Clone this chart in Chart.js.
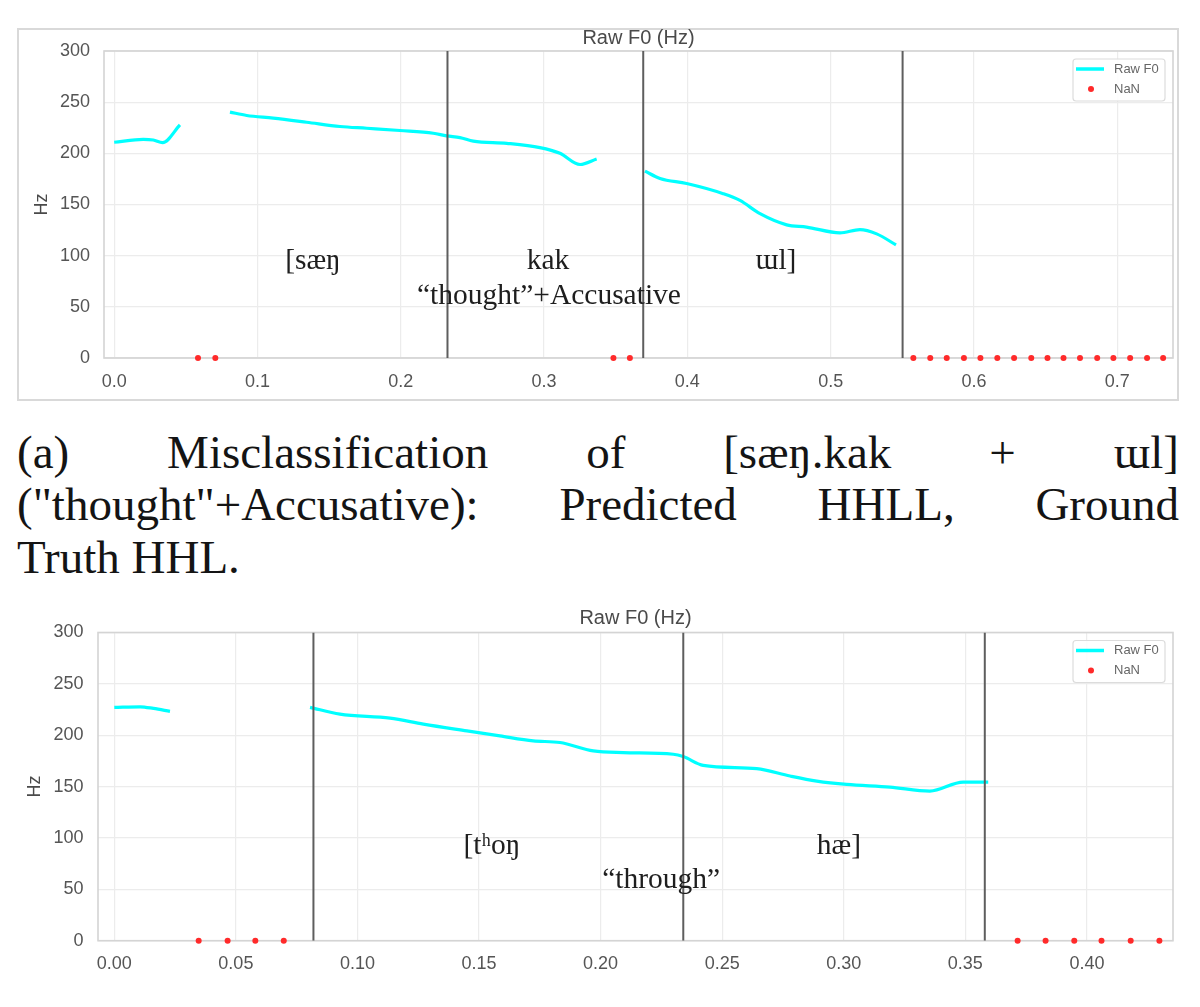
<!DOCTYPE html>
<html>
<head>
<meta charset="utf-8">
<script src="https://cdn.jsdelivr.net/npm/chart.js@4.4.0/dist/chart.umd.min.js"></script>
<style>
  html, body { margin:0; padding:0; background:#fff; }
  body { width:1200px; height:1007px; position:relative; overflow:hidden; }
  #frame1 { position:absolute; left:17px; top:28px; width:1162px; height:373px; box-sizing:border-box; border:2px solid #d9d9d9; }
  canvas { position:absolute; left:0; }
  #c1 { top:0; }
  #c2 { top:600px; }
  .cap { position:absolute; left:17px; width:1162px; font-family:"Liberation Serif","Times New Roman","DejaVu Serif",serif;
         font-size:47px; line-height:53px; color:#141414; white-space:nowrap; }
  .just { text-align:justify; text-align-last:justify; }
</style>
</head>
<body>
<div id="frame1"></div>
<canvas id="c1" width="1200" height="410" style="width:1200px;height:410px"></canvas>
<div class="cap just" style="top:426px">(a) Misclassification of [sæŋ.kak + ɯl]</div>
<div class="cap just" style="top:478px">("thought"+Accusative): Predicted HHLL, Ground</div>
<div class="cap" style="top:531px">Truth HHL.</div>
<canvas id="c2" width="1200" height="407" style="width:1200px;height:407px"></canvas>
<script>
// ================= DATA =================
const TITLE = 'Raw F0 (Hz)';
const Y_LABEL = 'Hz';
const SERIES_F0 = 'Raw F0';
const SERIES_NAN = 'NaN';
const yTicks = [0, 50, 100, 150, 200, 250, 300];
const yTickLabels = ['0', '50', '100', '150', '200', '250', '300'];

// ---- chart (a): [sæŋ.kak + ɯl]
const timeA = [0, 0.0203, 0.0273, 0.0338, 0.0459, 0.0645,
  0.0808, 0.0925, 0.111, 0.1343, 0.1576, 0.1762, 0.1994, 0.2227, 0.232, 0.2413, 0.2506, 0.2739, 0.2971, 0.3111, 0.3251, 0.3367, 0.354,
  0.3704, 0.3809, 0.3995, 0.425, 0.4367, 0.4507, 0.4693, 0.4832, 0.5065, 0.5204, 0.5321, 0.5456];
const f0A = [210.8, 213.7, 213, 210.5, 227.8, null,
  240.3, 237, 234.4, 230.4, 226.2, 224.5, 222.3, 219.6, 217, 215.4, 212, 209.8, 205.6, 200, 189.1, 194.4, null,
  182.6, 175.4, 170.5, 160.6, 154, 141, 130.1, 127.9, 122.3, 125.5, 121.3, 110.5];
const nanTimeA = [0.0585, 0.0706, 0.3484, 0.3599, 0.5577, 0.5695, 0.581, 0.593, 0.6045, 0.6163, 0.628, 0.64,
  0.6513, 0.6625, 0.674, 0.686, 0.6973, 0.709, 0.7208, 0.732];
const boundaryA = [0.2326, 0.3692, 0.5502];
const xTicksA = [0, 0.1, 0.2, 0.3, 0.4, 0.5, 0.6, 0.7];
const xTickLabelsA = ['0.0', '0.1', '0.2', '0.3', '0.4', '0.5', '0.6', '0.7'];
const xRangeA = [-0.0071, 0.7389];
const segTextA = ['[sæŋ', 'kak', 'ɯl]', '“thought”+Accusative'];
const segTextXA = [0.1387, 0.3027, 0.4618, 0.3034];
const segTextYA = [95, 95, 95, 60];

// ---- chart (b): [tʰoŋ hæ]
const timeB = [0, 0.0106, 0.0161, 0.0229, 0.052,
  0.0805, 0.0928, 0.1134, 0.1271, 0.145, 0.1586, 0.1723, 0.1833, 0.197, 0.2093, 0.2299, 0.234, 0.2422,
  0.2642, 0.2779, 0.2889, 0.3012, 0.319, 0.3354, 0.3491, 0.3594];
const f0B = [227.1, 227.7, 226.1, 223.2, null,
  227.1, 220.5, 216.6, 210.8, 204.2, 199.3, 194.5, 192.9, 184.7, 183.1, 181.5, 179.2, 170.7,
  167.5, 160.3, 155.4, 152.1, 149.5, 145.6, 154.4, 154.4];
const nanTimeB = [0.0347, 0.0466, 0.058, 0.0697, 0.3715, 0.383, 0.3948, 0.406, 0.418, 0.4298];
const boundaryB = [0.0819, 0.234, 0.358];
const xTicksB = [0, 0.05, 0.1, 0.15, 0.2, 0.25, 0.3, 0.35, 0.4];
const xTickLabelsB = ['0.00', '0.05', '0.10', '0.15', '0.20', '0.25', '0.30', '0.35', '0.40'];
const xRangeB = [-0.0067, 0.4354];
const segTextB = ['[tʰoŋ', 'hæ]', '“through”'];
const segTextXB = [0.1553, 0.298, 0.2249];
const segTextYB = [91.6, 91.6, 59.3];

// ================= STYLE =================
const SANS = '"Liberation Sans", Arial, "DejaVu Sans", sans-serif';
const SERIF = '"Liberation Serif", "Times New Roman", "DejaVu Serif", serif';
const TICK_COLOR = '#555555';
const GRID_COLOR = '#ececec';
const EDGE_COLOR = '#d4d4d4';
const LINE_COLOR = '#00ffff';
const NAN_COLOR = '#ff2a2a';
const BOUND_COLOR = '#5e5e5e';

const framePlugin = {
  id: 'plotFrame',
  beforeDatasetsDraw(chart) {
    const a = chart.chartArea, ctx = chart.ctx;
    ctx.save();
    ctx.strokeStyle = EDGE_COLOR;
    ctx.lineWidth = 1.6;
    ctx.strokeRect(a.left, a.top, a.right - a.left, a.bottom - a.top);
    ctx.restore();
  }
};

const segTextPlugin = {
  id: 'segText',
  afterDatasetsDraw(chart) {
    const o = chart.options.plugins.segText;
    const ctx = chart.ctx, xs = chart.scales.x, ys = chart.scales.y;
    ctx.save();
    ctx.font = '29.5px ' + SERIF;
    ctx.fillStyle = '#1e1e1e';
    ctx.textAlign = 'center';
    ctx.textBaseline = 'middle';
    o.texts.forEach((t, i) => {
      ctx.fillText(t, xs.getPixelForValue(o.xs[i]), ys.getPixelForValue(o.ys[i]));
    });
    ctx.restore();
  }
};

const boxLegendPlugin = {
  id: 'boxLegend',
  afterDraw(chart) {
    const a = chart.chartArea, ctx = chart.ctx;
    const items = chart.data.datasets.filter(d => d.legendKind);
    const w = 92, h = 42;
    const x0 = a.right - 8 - w, y0 = a.top + 8;
    ctx.save();
    ctx.fillStyle = 'rgba(255,255,255,0.9)';
    ctx.strokeStyle = '#dcdcdc';
    ctx.lineWidth = 1.2;
    ctx.beginPath();
    if (ctx.roundRect) ctx.roundRect(x0, y0, w, h, 3); else ctx.rect(x0, y0, w, h);
    ctx.fill(); ctx.stroke();
    ctx.font = '13px ' + SANS;
    ctx.textBaseline = 'middle';
    ctx.textAlign = 'left';
    items.forEach((d, i) => {
      const cy = y0 + 10 + i * 20;
      if (d.legendKind === 'line') {
        ctx.strokeStyle = d.borderColor;
        ctx.lineWidth = 3.5;
        ctx.beginPath(); ctx.moveTo(x0 + 3, cy); ctx.lineTo(x0 + 31, cy); ctx.stroke();
      } else {
        ctx.fillStyle = d.pointBackgroundColor;
        ctx.beginPath(); ctx.arc(x0 + 18, cy, 3, 0, Math.PI * 2); ctx.fill();
      }
      ctx.fillStyle = '#666';
      ctx.fillText(d.label, x0 + 41, cy);
    });
    ctx.restore();
  }
};

function makeChart(id, c) {
  const datasets = [];
  c.bounds.forEach(b => datasets.push({
    label: 'boundary', data: [{x: b, y: yTicks[0]}, {x: b, y: yTicks[yTicks.length - 1]}],
    borderColor: BOUND_COLOR, borderWidth: 2, pointRadius: 0, tension: 0
  }));
  datasets.push({
    label: SERIES_F0, legendKind: 'line',
    data: c.time.map((t, i) => ({x: t, y: c.f0[i]})),
    borderColor: LINE_COLOR, backgroundColor: LINE_COLOR, borderWidth: 3.2,
    pointRadius: 0, spanGaps: false, cubicInterpolationMode: 'monotone'
  });
  datasets.push({
    label: SERIES_NAN, legendKind: 'point',
    data: c.nan.map(t => ({x: t, y: 0})),
    showLine: false, pointRadius: 3, pointBackgroundColor: NAN_COLOR, pointBorderWidth: 0,
    borderColor: NAN_COLOR, clip: false
  });
  const tickFont = {family: SANS, size: 18};
  return new Chart(document.getElementById(id), {
    type: 'line',
    data: {datasets},
    plugins: [framePlugin, segTextPlugin, boxLegendPlugin],
    options: {
      responsive: false, animation: false, events: [], devicePixelRatio: 1,
      layout: {padding: {left: 0, right: c.padRight, top: 0, bottom: 0}},
      plugins: {
        legend: {display: false},
        tooltip: {enabled: false},
        title: {display: true, text: TITLE, fullSize: false, color: '#4a4a4a',
          font: {family: SANS, size: 20, weight: 'normal', lineHeight: 1.15},
          padding: {top: c.titleTop, bottom: c.titleBottom}},
        segText: {texts: c.segText, xs: c.segX, ys: c.segY}
      },
      scales: {
        x: {
          type: 'linear', min: c.xRange[0], max: c.xRange[1], bounds: 'data',
          afterBuildTicks: s => { s.ticks = c.xTicks.map(v => ({value: v})); },
          afterFit: s => { s.height = c.xAxisH; },
          ticks: {callback: (v, i) => c.xTickLabels[i], padding: 13, color: TICK_COLOR, font: tickFont, autoSkip: false, maxRotation: 0},
          grid: {color: GRID_COLOR, lineWidth: 1.2, drawTicks: false},
          border: {display: false}
        },
        y: {
          type: 'linear', min: yTicks[0], max: yTicks[yTicks.length - 1],
          afterBuildTicks: s => { s.ticks = yTicks.map(v => ({value: v})); },
          afterFit: s => { s.width = c.yAxisW; },
          ticks: {callback: (v, i) => yTickLabels[i], padding: c.yTickPad, color: TICK_COLOR, font: tickFont, autoSkip: false},
          grid: {color: GRID_COLOR, lineWidth: 1.2, drawTicks: false},
          border: {display: false},
          title: {display: true, text: Y_LABEL, color: '#4a4a4a', font: {family: SANS, size: 18, lineHeight: 1.2},
            padding: {top: c.hzPad, bottom: 0}}
        }
      }
    }
  });
}

makeChart('c1', {
  time: timeA, f0: f0A, nan: nanTimeA, bounds: boundaryA,
  xTicks: xTicksA, xTickLabels: xTickLabelsA, xRange: xRangeA,
  segText: segTextA, segX: segTextXA, segY: segTextYA,
  padRight: 27, titleTop: 27, titleBottom: 1, xAxisH: 52, yAxisW: 104, yTickPad: 14, hzPad: 31
});
makeChart('c2', {
  time: timeB, f0: f0B, nan: nanTimeB, bounds: boundaryB,
  xTicks: xTicksB, xTickLabels: xTickLabelsB, xRange: xRangeB,
  segText: segTextB, segX: segTextXB, segY: segTextYB,
  padRight: 27, titleTop: 6.5, titleBottom: 3, xAxisH: 66.3, yAxisW: 98, yTickPad: 14.5, hzPad: 24
});
</script>
</body>
</html>
